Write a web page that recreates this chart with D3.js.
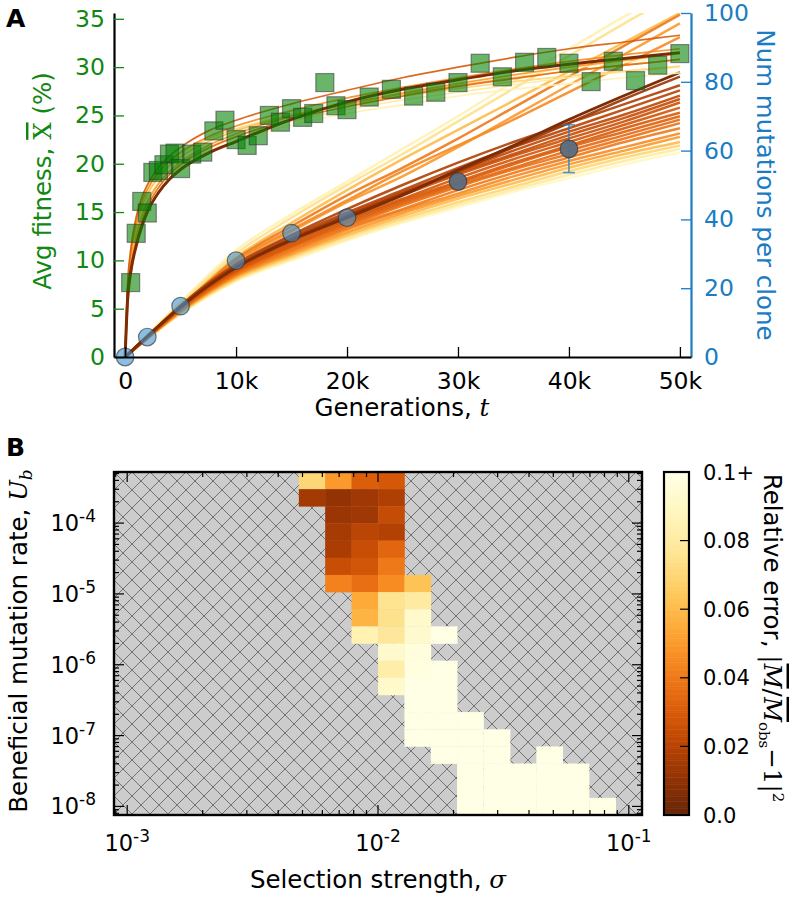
<!DOCTYPE html>
<html><head><meta charset="utf-8">
<script src="https://cdn.jsdelivr.net/npm/d3@7"></script>
<style>body{margin:0;background:#fff}</style>
</head><body>
<svg id="c" width="793" height="899" xmlns="http://www.w3.org/2000/svg"></svg>
<script>
// ---------------- DATA: panel A ----------------
const genTicks = [0, 10000, 20000, 30000, 40000, 50000];
const fitTicks = [0, 5, 10, 15, 20, 25, 30, 35];
const mutTicks = [0, 20, 40, 60, 80, 100];

// observed fitness (%), green squares
const fitGen = [500,1000,1500,2000,2500,3000,3500,4000,4500,5000,6000,7000,8000,9000,10000,11000,12000,13000,14000,15000,16000,17000,18000,19000,20000,22000,24000,26000,28000,30000,32000,34000,36000,38000,40000,42000,44000,46000,48000,50000];
const fitVal = [7.7,12.8,16.1,14.9,19.1,19.3,19.9,21.0,21.1,19.5,21.0,21.2,23.4,24.5,22.5,21.9,22.9,25.0,24.3,25.7,24.8,25.2,28.4,26.0,25.6,26.9,27.7,27.0,27.4,28.4,30.4,29.0,30.5,31.0,30.4,28.5,30.6,28.6,30.2,31.4];

// observed mutations per clone, circles
const mutGen = [0, 2000, 5000, 10000, 15000, 20000];
const mutVal = [0, 5.8, 14.8, 28, 36, 40.5];
const mutGenLate = [30000, 40000];
const mutValLate = [51, 60.5];
const errBarGen = [40000];
const errBarLo = [53.6];
const errBarHi = [67.5];

// simulated fitness trajectories (grid + curves + relative errors)
const fitGrid = [0,250,500,1000,1500,2000,3000,4000,5000,7500,10000,15000,20000,25000,30000,35000,40000,45000,50000];
const fitCurveErr = [0.09, 0.085, 0.08, 0.07, 0.06, 0.05, 0.045, 0.035, 0.03];
const fitCurves = [
  [0,7.2,10.2,13.6,15.6,17.0,18.8,20.0,20.9,22.5,23.6,25.2,26.5,27.5,28.4,29.2,29.9,30.5,31.1],
  [0,6.5,9.3,12.6,14.5,15.8,17.6,18.8,19.7,21.3,22.4,24.0,25.2,26.1,27.0,27.7,28.3,28.9,29.4],
  [0,6.8,9.6,13.0,15.0,16.3,18.0,19.2,20.1,21.7,22.8,24.4,25.6,26.6,27.4,28.2,28.9,29.5,30.0],
  [0,7.8,11.0,14.3,16.2,17.5,19.2,20.3,21.1,22.6,23.6,25.0,26.1,27.0,27.8,28.5,29.1,29.6,30.1],
  [0,7.0,10.0,13.5,15.5,16.8,18.6,19.8,20.7,22.3,23.4,25.0,26.2,27.2,28.1,28.9,29.6,30.2,30.8],
  [0,6.0,9.0,12.5,14.6,16.0,17.9,19.2,20.2,21.9,23.1,24.9,26.2,27.3,28.3,29.2,30.0,30.7,31.4],
  [0,7.5,10.5,14.0,16.0,17.3,19.1,20.3,21.2,22.8,23.9,25.5,26.8,27.9,28.9,29.8,30.6,31.3,31.9],
  [0,5.5,8.2,11.8,14.0,15.5,17.5,18.9,19.9,21.6,22.8,24.6,25.9,27.0,28.0,28.8,29.6,30.2,30.8],
  [0,8.0,11.0,14.5,16.5,17.8,19.6,20.8,21.7,23.4,24.5,26.2,27.6,28.9,30.0,31.0,31.9,32.6,33.3]
];
const fitBest = [0,6.5,8.8,11.5,13.5,15.0,17.0,18.4,19.4,21.1,22.3,24.6,26.4,27.7,28.7,29.6,30.3,30.9,31.5];

// simulated mutation trajectories
const mutGrid = [0,2000,5000,10000,15000,20000,25000,30000,35000,40000,45000,50000];
const mutCurveErr = [0.09,0.08,0.07,0.085,0.06,0.05,0.075,0.045,0.04,0.045,0.038,0.06,0.035,0.05,0.032,0.03,0.04,0.028,0.026,0.024,0.022,0.02,0.018,0.012];
const mutCurves = [
  [0,5.2,12.5,22.0,28.0,33.8,39.0,43.5,48.0,52.0,56.0,59.5],
  [0,5.3,12.6,22.3,28.5,34.3,39.5,44.2,48.7,53.0,57.0,60.5],
  [0,5.3,12.8,22.6,29.0,35.0,40.2,45.0,49.5,54.0,58.0,61.5],
  [0,6.4,16.0,31.0,41.5,51.0,60.5,70.0,80.0,89.5,99.0,108],
  [0,5.4,13.0,23.0,29.5,35.5,41.0,46.0,50.5,55.0,59.0,62.5],
  [0,5.4,13.2,23.4,30.0,36.2,41.8,46.8,51.5,56.0,60.0,64.0],
  [0,6.2,15.5,30.0,40.5,50.0,59.0,68.5,78.0,87.5,97.0,106],
  [0,5.5,13.4,23.7,30.5,37.0,42.5,47.5,52.5,57.0,61.0,65.0],
  [0,5.5,13.5,24.0,31.0,37.5,43.0,48.5,53.5,58.0,62.5,66.5],
  [0,5.7,14.2,28.0,37.0,45.5,54.0,61.5,69.0,77.0,85.0,93.0],
  [0,5.6,13.7,24.3,31.5,38.0,44.0,49.5,54.5,59.0,63.5,68.0],
  [0,5.9,14.8,29.0,39.0,48.5,57.5,66.0,74.5,83.0,91.5,100],
  [0,5.6,13.8,24.5,32.0,38.5,44.5,50.0,55.0,60.0,64.5,69.0],
  [0,5.6,14.0,27.5,36.5,45.0,52.5,61.0,70.0,79.0,88.0,97.0],
  [0,5.7,14.0,24.8,32.2,39.0,45.0,50.5,56.0,61.0,65.5,70.0],
  [0,5.7,14.0,25.0,32.5,39.5,45.5,51.0,56.5,61.5,66.5,71.0],
  [0,5.8,14.5,28.5,38.0,47.0,55.0,63.5,72.5,81.5,90.5,99.5],
  [0,5.7,14.2,25.2,33.0,40.0,46.0,52.0,57.5,62.5,67.5,72.5],
  [0,5.8,14.4,25.5,33.5,40.5,47.0,53.0,58.5,63.5,68.5,74.0],
  [0,5.8,14.5,25.8,34.0,41.0,47.5,53.5,59.0,64.5,69.5,75.0],
  [0,5.9,14.6,26.0,34.5,41.5,48.0,54.0,60.0,65.5,70.5,76.0],
  [0,6.0,14.8,26.5,35.0,42.0,48.5,55.0,61.0,66.5,72.0,77.5],
  [0,6.0,15.0,27.0,35.5,43.0,50.0,56.5,62.5,68.0,73.5,79.0],
  [0,6.0,14.6,26.2,34.3,41.0,47.5,54.0,61.0,68.0,75.0,81.5]
];
const mutBest = [0,6.0,14.5,26.0,34.0,40.5,47.0,54.4,61.5,69.0,76.0,82.7];

// ---------------- DATA: panel B ----------------
const sigmaExp = [-3.000,-2.895,-2.789,-2.684,-2.579,-2.474,-2.368,-2.263,-2.158,-2.053,-1.947,-1.842,-1.737,-1.632,-1.526,-1.421,-1.316,-1.211,-1.105,-1.000];
const ubExp = [-8.000,-7.758,-7.516,-7.274,-7.032,-6.789,-6.547,-6.305,-6.063,-5.821,-5.579,-5.337,-5.095,-4.853,-4.611,-4.368,-4.126,-3.884,-3.642,-3.400];
const sigmaTickExp = [-3, -2, -1];
const ubTickExp = [-8, -7, -6, -5, -4];
const cbTicks = [0, 0.02, 0.04, 0.06, 0.08, 0.1];
const cbTickLabels = ["0.0", "0.02", "0.04", "0.06", "0.08", "0.1+"];
// [sigma index, Ub index, relative error]  (0.12 means "0.1+")
const heatCells = [
  [7,19,0.070],[8,19,0.050],[9,19,0.031],[10,19,0.029],
  [7,18,0.015],[8,18,0.011],[9,18,0.014],[10,18,0.018],
  [8,17,0.013],[9,17,0.014],[10,17,0.024],
  [8,16,0.016],[9,16,0.021],[10,16,0.019],
  [8,15,0.017],[9,15,0.025],[10,15,0.034],
  [8,14,0.025],[9,14,0.028],[10,14,0.040],
  [8,13,0.043],[9,13,0.037],[10,13,0.046],[11,13,0.063],
  [9,12,0.055],[10,12,0.076],[11,12,0.080],
  [9,11,0.058],[10,11,0.075],[11,11,0.092],
  [9,10,0.085],[10,10,0.078],[11,10,0.093],[12,10,0.12],
  [10,9,0.093],[11,9,0.097],
  [10,8,0.082],[11,8,0.098],[12,8,0.12],
  [10,7,0.092],[11,7,0.12],[12,7,0.12],
  [11,6,0.12],[12,6,0.12],
  [11,5,0.12],[12,5,0.12],[13,5,0.12],
  [11,4,0.12],[12,4,0.12],[13,4,0.12],[14,4,0.12],
  [12,3,0.12],[13,3,0.12],[14,3,0.12],[16,3,0.12],
  [13,2,0.12],[14,2,0.12],[15,2,0.12],[16,2,0.12],[17,2,0.12],
  [13,1,0.12],[14,1,0.12],[15,1,0.12],[16,1,0.12],[17,1,0.12],
  [13,0,0.12],[14,0,0.12],[15,0,0.12],[16,0,0.12],[17,0,0.12],[18,0,0.12]
];

// ---------------- DRAWING ----------------
const FONT = "DejaVu Sans, Bitstream Vera Sans, sans-serif";
const SERIF = "DejaVu Serif, serif";
const GREEN = "#118811";
const BLUE = "#1a7cc4";
const TICK_FS = 23.5, LABEL_FS = 24.5;
const svg = d3.select("#c");
const defs = svg.append("defs");
const errColor = v => d3.interpolateYlOrBr(1 - Math.min(v, 0.1) / 0.1);

// ===== Panel A =====
const xA = d3.scaleLinear().domain([-1000, 51000]).range([114, 691]);
const yL = d3.scaleLinear().domain([0, 35.6]).range([357, 13]);
const yR = d3.scaleLinear().domain([0, 100]).range([357, 13]);

defs.append("clipPath").attr("id", "clipA").append("rect")
  .attr("x", xA.range()[0]).attr("y", yL.range()[1])
  .attr("width", xA.range()[1] - xA.range()[0]).attr("height", yL.range()[0] - yL.range()[1]);

const gA = svg.append("g").attr("clip-path", "url(#clipA)");

const lineF = d3.line().x((d, i) => xA(fitGrid[i])).y(d => yL(d)).curve(d3.curveMonotoneX);
const lineM = d3.line().x((d, i) => xA(mutGrid[i])).y(d => yR(d)).curve(d3.curveMonotoneX);

// mutation trajectories
const mutOrder = d3.range(mutCurves.length).sort((a, b) => mutCurveErr[b] - mutCurveErr[a]);
gA.selectAll("path.mut").data(mutOrder).join("path").attr("class", "mut")
  .attr("d", i => lineM(mutCurves[i])).attr("fill", "none")
  .attr("stroke", i => errColor(mutCurveErr[i])).attr("stroke-width", 2.5)
  .attr("stroke-opacity", 0.9);
gA.append("path").attr("d", lineM(mutBest)).attr("fill", "none")
  .attr("stroke", errColor(0.006)).attr("stroke-width", 2.8);

// fitness trajectories
const fitOrder = d3.range(fitCurves.length).sort((a, b) => fitCurveErr[b] - fitCurveErr[a]);
gA.selectAll("path.fit").data(fitOrder).join("path").attr("class", "fit")
  .attr("d", i => lineF(fitCurves[i])).attr("fill", "none")
  .attr("stroke", i => errColor(fitCurveErr[i])).attr("stroke-width", 1.7)
  .attr("stroke-opacity", 0.9);
gA.append("path").attr("d", lineF(fitBest)).attr("fill", "none")
  .attr("stroke", errColor(0.006)).attr("stroke-width", 3);

// green squares
svg.append("g").selectAll("rect").data(fitGen).join("rect")
  .attr("x", (d) => xA(d) - 9).attr("y", (d, i) => yL(fitVal[i]) - 9)
  .attr("width", 18).attr("height", 18)
  .attr("fill", "#008000").attr("fill-opacity", 0.58)
  .attr("stroke", "#333").attr("stroke-opacity", 0.55).attr("stroke-width", 1.2);

// error bar
errBarGen.forEach((g, i) => {
  const x = xA(g);
  const eb = svg.append("g").attr("stroke", BLUE).attr("stroke-opacity", 0.75).attr("stroke-width", 1.6);
  eb.append("line").attr("x1", x).attr("x2", x).attr("y1", yR(errBarLo[i])).attr("y2", yR(errBarHi[i]));
  eb.append("line").attr("x1", x - 6).attr("x2", x + 6).attr("y1", yR(errBarLo[i])).attr("y2", yR(errBarLo[i]));
  eb.append("line").attr("x1", x - 6).attr("x2", x + 6).attr("y1", yR(errBarHi[i])).attr("y2", yR(errBarHi[i]));
});

// circles
svg.append("g").selectAll("circle").data(mutGen).join("circle")
  .attr("cx", d => xA(d)).attr("cy", (d, i) => yR(mutVal[i])).attr("r", 8.8)
  .attr("fill", "#3f93d1").attr("fill-opacity", 0.6)
  .attr("stroke", "#333").attr("stroke-opacity", 0.65).attr("stroke-width", 1.2);
svg.append("g").selectAll("circle").data(mutGenLate).join("circle")
  .attr("cx", d => xA(d)).attr("cy", (d, i) => yR(mutValLate[i])).attr("r", 8.8)
  .attr("fill", "#5a6d80").attr("fill-opacity", 0.95)
  .attr("stroke", "#333").attr("stroke-opacity", 0.7).attr("stroke-width", 1.2);

// axes A
const axL = d3.axisLeft(yL).tickValues(fitTicks).tickSize(-10).tickSizeOuter(0).tickPadding(9).tickFormat(d3.format("d"));
const gL = svg.append("g").attr("transform", `translate(${xA.range()[0]},0)`).call(axL);
gL.select(".domain").attr("stroke", "#000").attr("stroke-width", 2.2);
gL.selectAll(".tick line").attr("stroke", GREEN).attr("stroke-width", 1.3);
gL.selectAll(".tick text").attr("fill", GREEN).attr("font-size", TICK_FS).attr("font-family", FONT);

const axR = d3.axisRight(yR).tickValues(mutTicks).tickSize(-10).tickSizeOuter(0).tickPadding(13).tickFormat(d3.format("d"));
const gR = svg.append("g").attr("transform", `translate(${xA.range()[1]},0)`).call(axR);
gR.select(".domain").attr("stroke", BLUE).attr("stroke-width", 2.2);
gR.selectAll(".tick line").attr("stroke", BLUE).attr("stroke-width", 1.3);
gR.selectAll(".tick text").attr("fill", BLUE).attr("font-size", TICK_FS).attr("font-family", FONT);

const axB = d3.axisBottom(xA).tickValues(genTicks).tickSize(-10).tickSizeOuter(0).tickPadding(15)
  .tickFormat(d => d === 0 ? "0" : (d / 1000) + "k");
const gB = svg.append("g").attr("transform", `translate(0,${yL.range()[0]})`).call(axB);
gB.select(".domain").attr("stroke", "#000").attr("stroke-width", 2.2);
gB.selectAll(".tick line").attr("stroke", "#000").attr("stroke-width", 1.3);
gB.selectAll(".tick text").attr("fill", "#000").attr("font-size", TICK_FS).attr("font-family", FONT);

// labels A
const tG = svg.append("text").attr("x", 402).attr("y", 416).attr("text-anchor", "middle")
  .attr("font-family", FONT).attr("font-size", LABEL_FS).attr("fill", "#000");
tG.append("tspan").text("Generations, ");
tG.append("tspan").attr("font-family", SERIF).attr("font-style", "italic").text("t");

const tF = svg.append("text").attr("transform", "translate(51,181) rotate(-90)").attr("text-anchor", "middle")
  .attr("font-family", FONT).attr("font-size", LABEL_FS).attr("fill", GREEN);
tF.append("tspan").text("Avg fitness, ");
tF.append("tspan").attr("font-family", SERIF).attr("text-decoration", "overline").text("X");
tF.append("tspan").text(" (%)");

svg.append("text").attr("transform", "translate(757,185) rotate(90)").attr("text-anchor", "middle")
  .attr("font-family", FONT).attr("font-size", LABEL_FS).attr("fill", BLUE).text("Num mutations per clone");

svg.append("text").attr("x", 6).attr("y", 27).attr("font-family", FONT).attr("font-weight", "bold")
  .attr("font-size", 25).text("A");
svg.append("text").attr("x", 6).attr("y", 456).attr("font-family", FONT).attr("font-weight", "bold")
  .attr("font-size", 25).text("B");

// ===== Panel B =====
const cw = (sigmaExp[19] - sigmaExp[0]) / 19, ch = (ubExp[19] - ubExp[0]) / 19;
const xB = d3.scaleLog().domain([Math.pow(10, sigmaExp[0] - cw / 2), Math.pow(10, sigmaExp[19] + cw / 2)]).range([114, 642]);
const yB = d3.scaleLog().domain([Math.pow(10, ubExp[0] - ch / 2), Math.pow(10, ubExp[19] + ch / 2)]).range([815, 472]);
const [bx0, bx1] = xB.range(), [by0, by1] = yB.range();

const pat = defs.append("pattern").attr("id", "hatch").attr("patternUnits", "userSpaceOnUse")
  .attr("width", 18).attr("height", 18).attr("x", bx0).attr("y", by1);
pat.append("rect").attr("width", 18).attr("height", 18).attr("fill", "#cccccc");
pat.append("path").attr("d", "M0,0L18,18M0,18L18,0M-2,2L2,-2M16,20L20,16M-2,16L2,20M16,-2L20,2")
  .attr("stroke", "#5a5a5a").attr("stroke-width", 0.8).attr("fill", "none");

svg.append("rect").attr("x", bx0).attr("y", by1).attr("width", bx1 - bx0).attr("height", by0 - by1)
  .attr("fill", "url(#hatch)");

svg.append("g").selectAll("rect").data(heatCells).join("rect")
  .attr("x", d => xB(Math.pow(10, sigmaExp[d[0]] - cw / 2)))
  .attr("width", d => xB(Math.pow(10, sigmaExp[d[0]] + cw / 2)) - xB(Math.pow(10, sigmaExp[d[0]] - cw / 2)) + 0.3)
  .attr("y", d => yB(Math.pow(10, ubExp[d[1]] + ch / 2)))
  .attr("height", d => yB(Math.pow(10, ubExp[d[1]] - ch / 2)) - yB(Math.pow(10, ubExp[d[1]] + ch / 2)) + 0.3)
  .attr("fill", d => errColor(d[2]));

// ticks panel B (inward, all four sides)
const tickG = svg.append("g").attr("stroke", "#000").attr("stroke-width", 1.2);
const xMinor = [], yMinor = [];
for (let e = -4; e <= 0; e++) for (let m = 1; m <= 9; m++) {
  const v = m * Math.pow(10, e);
  if (v >= xB.domain()[0] && v <= xB.domain()[1]) xMinor.push([v, m === 1]);
}
for (let e = -9; e <= -3; e++) for (let m = 1; m <= 9; m++) {
  const v = m * Math.pow(10, e);
  if (v >= yB.domain()[0] && v <= yB.domain()[1]) yMinor.push([v, m === 1]);
}
xMinor.forEach(([v, maj]) => {
  const x = xB(v), L = maj ? 10 : 5;
  tickG.append("line").attr("x1", x).attr("x2", x).attr("y1", by0).attr("y2", by0 - L);
  tickG.append("line").attr("x1", x).attr("x2", x).attr("y1", by1).attr("y2", by1 + L);
});
yMinor.forEach(([v, maj]) => {
  const y = yB(v), L = maj ? 10 : 5;
  tickG.append("line").attr("x1", bx0).attr("x2", bx0 + L).attr("y1", y).attr("y2", y);
  tickG.append("line").attr("x1", bx1).attr("x2", bx1 - L).attr("y1", y).attr("y2", y);
});
svg.append("rect").attr("x", bx0).attr("y", by1).attr("width", bx1 - bx0).attr("height", by0 - by1)
  .attr("fill", "none").attr("stroke", "#000").attr("stroke-width", 2.4);

// tick labels B
sigmaTickExp.forEach(e => {
  const t = svg.append("text").attr("x", xB(Math.pow(10, e))).attr("y", 851).attr("text-anchor", "middle")
    .attr("font-family", FONT).attr("font-size", 22.5);
  t.append("tspan").text("10");
  t.append("tspan").attr("dy", -9).attr("font-size", 17).text(String(e));
});
ubTickExp.forEach(e => {
  const t = svg.append("text").attr("x", 96).attr("y", yB(Math.pow(10, e)) + 8).attr("text-anchor", "end")
    .attr("font-family", FONT).attr("font-size", 22.5);
  t.append("tspan").text("10");
  t.append("tspan").attr("dy", -9).attr("font-size", 17).text(String(e));
});

// labels B
const tX = svg.append("text").attr("x", 378).attr("y", 888).attr("text-anchor", "middle")
  .attr("font-family", FONT).attr("font-size", LABEL_FS);
tX.append("tspan").text("Selection strength, ");
tX.append("tspan").attr("font-family", SERIF).attr("font-style", "italic").text("σ");

const tY = svg.append("text").attr("transform", "translate(27,641) rotate(-90)").attr("text-anchor", "middle")
  .attr("font-family", FONT).attr("font-size", LABEL_FS);
tY.append("tspan").text("Beneficial mutation rate, ");
tY.append("tspan").attr("font-family", SERIF).attr("font-style", "italic").text("U");
tY.append("tspan").attr("font-family", SERIF).attr("font-style", "italic").attr("font-size", 17).attr("dy", 5).text("b");

// colorbar
const cb = d3.scaleLinear().domain([0, 0.1]).range([815, 472]);
const cbx0 = 664, cbx1 = 689;
const cbSteps = d3.range(0, 0.1, 0.0005);
svg.append("g").selectAll("rect").data(cbSteps).join("rect")
  .attr("x", cbx0).attr("width", cbx1 - cbx0)
  .attr("y", d => cb(d + 0.0005)).attr("height", d => cb(d) - cb(d + 0.0005) + 0.5)
  .attr("fill", d => errColor(d + 0.00025));
svg.append("rect").attr("x", cbx0).attr("y", cb(0.1)).attr("width", cbx1 - cbx0).attr("height", cb(0) - cb(0.1))
  .attr("fill", "none").attr("stroke", "#000").attr("stroke-width", 2.2);
cbTicks.forEach((v, i) => {
  if (i > 0 && i < cbTicks.length - 1)
    svg.append("line").attr("x1", cbx1).attr("x2", cbx1 - 9).attr("y1", cb(v)).attr("y2", cb(v))
      .attr("stroke", "#000").attr("stroke-width", 1.2);
  svg.append("text").attr("x", 703).attr("y", cb(v) + 7.5).attr("font-family", FONT).attr("font-size", 21)
    .text(cbTickLabels[i]);
});
const tC = svg.append("text").attr("transform", "translate(764,638) rotate(90)").attr("text-anchor", "middle")
  .attr("font-family", FONT).attr("font-size", LABEL_FS);
tC.append("tspan").text("Relative error, ");
tC.append("tspan").attr("font-family", SERIF).text("|");
tC.append("tspan").attr("font-family", SERIF).attr("font-style", "italic").attr("text-decoration", "overline").text("M");
tC.append("tspan").attr("font-family", SERIF).text("/");
tC.append("tspan").attr("font-family", SERIF).attr("font-style", "italic").attr("text-decoration", "overline").text("M");
tC.append("tspan").attr("font-family", SERIF).attr("font-size", 15).attr("dy", 5).text("obs");
tC.append("tspan").attr("font-family", SERIF).attr("dy", -5).text("−1|");
tC.append("tspan").attr("font-family", SERIF).attr("font-size", 15).attr("dy", -9).text("2");
</script>
</body></html>
